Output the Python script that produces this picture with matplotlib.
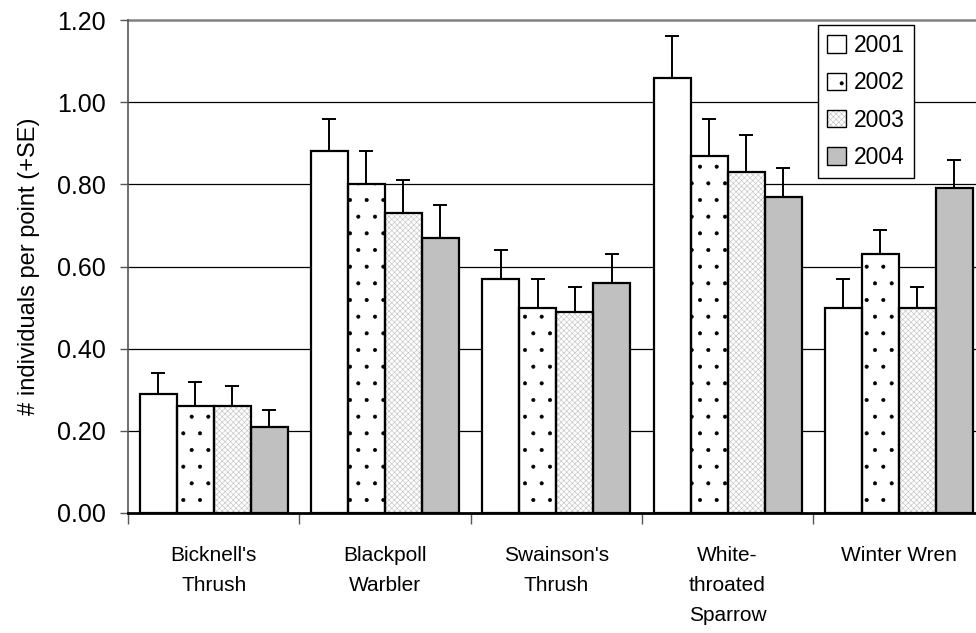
import matplotlib.pyplot as plt
import numpy as np
from matplotlib.patches import Patch
from matplotlib.legend_handler import HandlerTuple

plt.rcParams['font.family'] = ['Liberation Sans', 'DejaVu Sans']
plt.rcParams['hatch.linewidth'] = 0.45

species = ["Bicknell's\nThrush", "Blackpoll\nWarbler", "Swainson's\nThrush",
           "White-\nthroated\nSparrow", "Winter Wren"]
years = ['2001', '2002', '2003', '2004']

# mean individuals per point, one list per year
mean_2001 = [0.29, 0.88, 0.57, 1.06, 0.50]
mean_2002 = [0.26, 0.80, 0.50, 0.87, 0.63]
mean_2003 = [0.26, 0.73, 0.49, 0.83, 0.50]
mean_2004 = [0.21, 0.67, 0.56, 0.77, 0.79]

# standard errors (upper bars only)
se_2001 = [0.05, 0.08, 0.07, 0.10, 0.07]
se_2002 = [0.06, 0.08, 0.07, 0.09, 0.06]
se_2003 = [0.05, 0.08, 0.06, 0.09, 0.05]
se_2004 = [0.04, 0.08, 0.07, 0.07, 0.07]

means = [mean_2001, mean_2002, mean_2003, mean_2004]
errs = [se_2001, se_2002, se_2003, se_2004]

# fill, hatch and hatch colour per year
styles = [
    dict(fill='white', hatch=None, hcol='black'),
    dict(fill='white', hatch='.', hcol='black'),
    dict(fill='white', hatch='xxxxxx', hcol='#c4c4c4'),
    dict(fill='#c0c0c0', hatch=None, hcol='black'),
]

fig = plt.figure(figsize=(9.76, 6.33), dpi=100)
ax = fig.add_axes([128 / 976, 120 / 633, 856.5 / 976, 493 / 633])

x = np.arange(len(species))
w = 0.216
handles = []
for i, (m, e, st) in enumerate(zip(means, errs, styles)):
    pos = x + (i - 1.5) * w
    # hatch layer first, then a plain outline on top
    ax.bar(pos, m, w, color=st['fill'], edgecolor=st['hcol'], hatch=st['hatch'],
           linewidth=0, zorder=2)
    ax.bar(pos, m, w, color='none', edgecolor='black', linewidth=1.6, zorder=3)
    ax.errorbar(pos, m, yerr=[np.zeros(len(m)), e], fmt='none', ecolor='black',
                elinewidth=1.4, capsize=4.9, capthick=1.4, zorder=4)
    h1 = Patch(facecolor=st['fill'], edgecolor=st['hcol'], hatch=st['hatch'], linewidth=0)
    h2 = Patch(facecolor='none', edgecolor='black', linewidth=1.0)
    handles.append((h1, h2))

ax.set_xlim(-0.5, 4.5)
ax.set_ylim(0, 1.2)
ax.set_yticks(np.arange(0, 1.21, 0.2))
ax.set_yticklabels([f'{v:.2f}' for v in np.arange(0, 1.21, 0.2)], fontsize=18)
ax.tick_params(axis='y', length=6, width=1, color='#555555', pad=10)

ax.set_xticks(np.arange(-0.5, 4.6, 1.0))
ax.set_xticklabels([])
ax.tick_params(axis='x', which='major', length=8, width=1, color='#555555')
ax.set_xticks(x, minor=True)
ax.set_xticklabels(species, minor=True, fontsize=15, linespacing=1.72)
ax.tick_params(axis='x', which='minor', length=0, pad=24)

for v in np.arange(0.2, 1.01, 0.2):
    ax.axhline(v, color='black', linewidth=0.9, zorder=1)
ax.axhline(1.2, color='#808080', linewidth=1.8, zorder=1, clip_on=False)

for s in ['top', 'right']:
    ax.spines[s].set_visible(False)
ax.spines['left'].set_color('#555555')
ax.spines['left'].set_linewidth(1.2)
ax.spines['bottom'].set_color('black')
ax.spines['bottom'].set_linewidth(2)
ax.spines['bottom'].set_zorder(5)

ax.set_ylabel('# individuals per point (+SE)', fontsize=17, labelpad=12)

leg = fig.legend(handles, years, handler_map={tuple: HandlerTuple(ndivide=1)},
                 loc='upper left', bbox_to_anchor=(818 / 976, 1 - 25 / 633),
                 fontsize=16.5, frameon=True, fancybox=False, edgecolor='black',
                 framealpha=1, handlelength=0.8, handleheight=0.8, handletextpad=0.35,
                 labelspacing=0.62, borderpad=0.4, borderaxespad=0)
leg.get_frame().set_linewidth(1.0)

fig.savefig('out.png', dpi=100)
